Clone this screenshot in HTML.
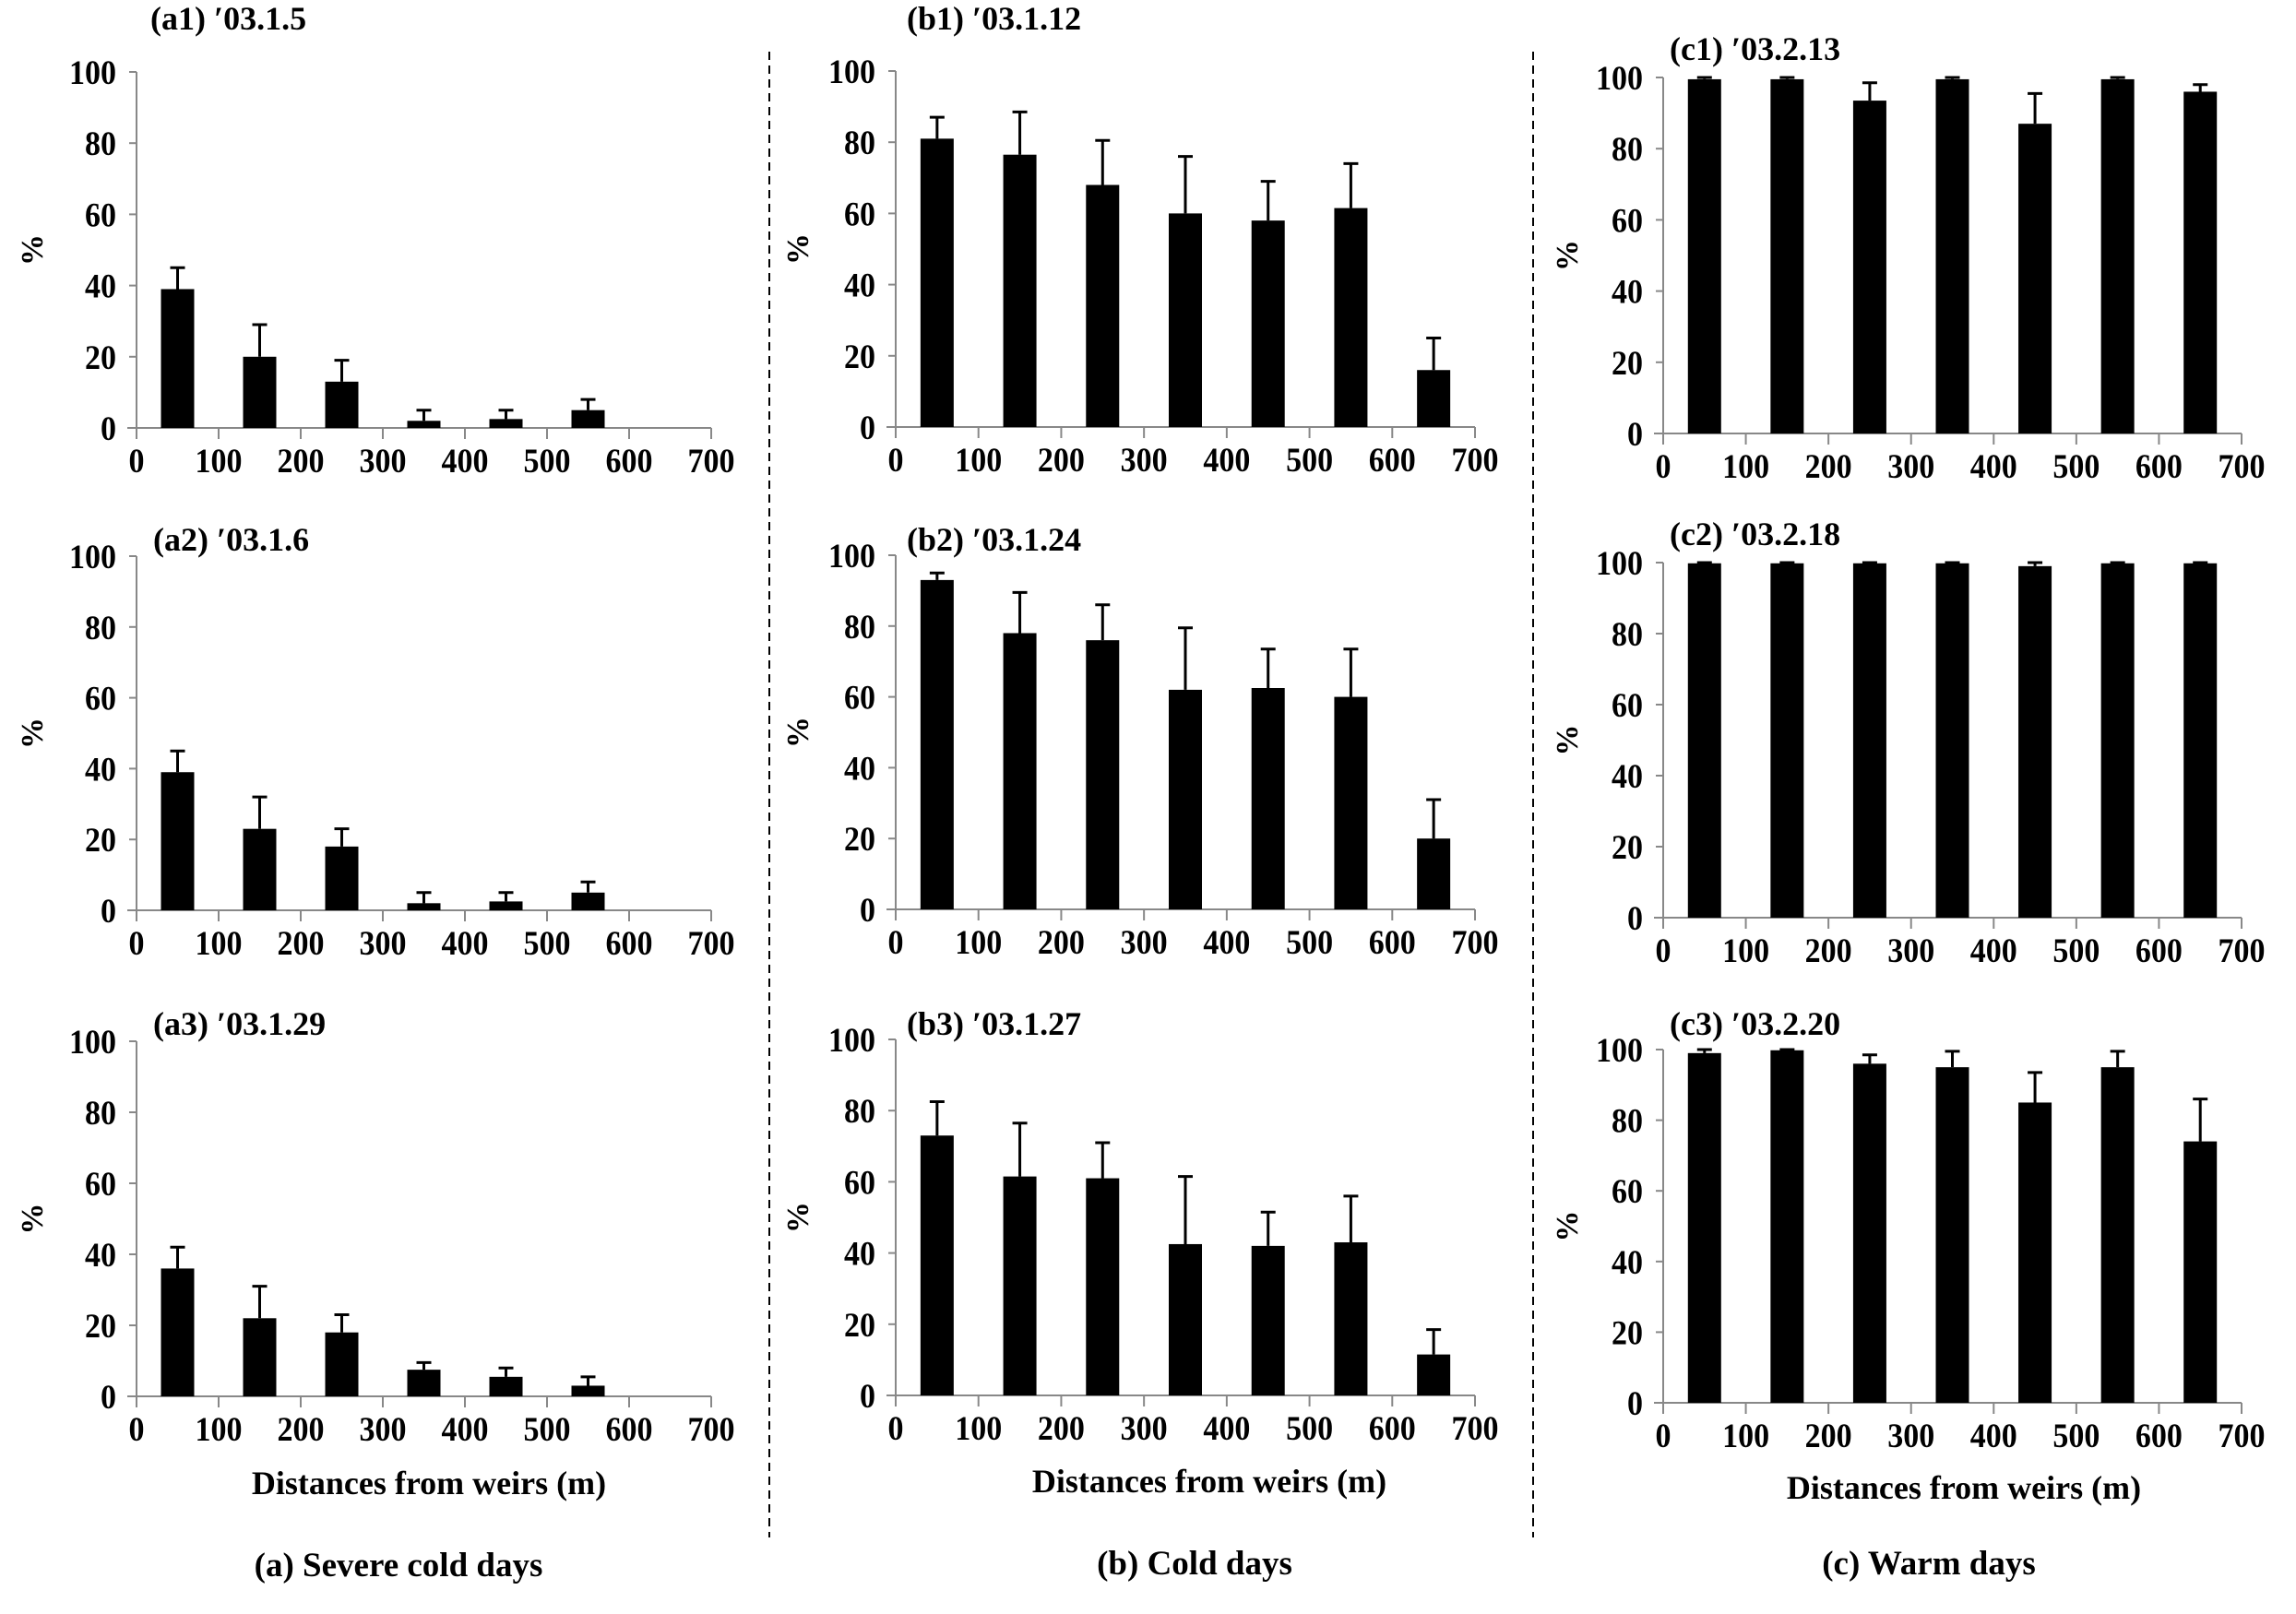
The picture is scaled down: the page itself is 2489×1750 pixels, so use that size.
<!DOCTYPE html>
<html><head><meta charset="utf-8">
<style>
html,body{margin:0;padding:0;background:#fff;}
svg{display:block;}
text{font-family:"Liberation Serif",serif;font-weight:bold;fill:#000;}
</style></head>
<body>
<svg id="fig" width="2489" height="1750" viewBox="0 0 2489 1750" xmlns="http://www.w3.org/2000/svg">
<line x1="834" y1="56" x2="834" y2="1667" stroke="#000" stroke-width="2" stroke-dasharray="9,6"/>
<line x1="1662" y1="56" x2="1662" y2="1667" stroke="#000" stroke-width="2" stroke-dasharray="9,6"/>
<text x="432" y="1709" font-size="37" text-anchor="middle">(a) Severe cold days</text>
<text x="1295" y="1707" font-size="37" text-anchor="middle">(b) Cold days</text>
<text x="2091" y="1707" font-size="37" text-anchor="middle">(c) Warm days</text>
<text x="465" y="1620" font-size="36" text-anchor="middle">Distances from weirs (m)</text>
<text x="1311" y="1618" font-size="36" text-anchor="middle">Distances from weirs (m)</text>
<text x="2129" y="1625" font-size="36" text-anchor="middle">Distances from weirs (m)</text>
</svg>
<script>
const categories=[50,150,250,350,450,550,650];
const xTicks=[0,100,200,300,400,500,600,700];
const yTicks=[0,20,40,60,80,100];
const titles=["(a1) \u203203.1.5","(a2) \u203203.1.6","(a3) \u203203.1.29","(b1) \u203203.1.12","(b2) \u203203.1.24","(b3) \u203203.1.27","(c1) \u203203.2.13","(c2) \u203203.2.18","(c3) \u203203.2.20"];
const valuesA1=[39,20,13,2,2.5,5];
const errorsA1=[6,9,6,3,2.5,3];
const valuesA2=[39,23,18,2,2.5,5];
const errorsA2=[6,9,5,3,2.5,3];
const valuesA3=[36,22,18,7.5,5.5,3];
const errorsA3=[6,9,5,2,2.5,2.5];
const valuesB1=[81,76.5,68,60,58,61.5,16];
const errorsB1=[6,12,12.5,16,11,12.5,9];
const valuesB2=[93,78,76,62,62.5,60,20];
const errorsB2=[2,11.5,10,17.5,11,13.5,11];
const valuesB3=[73,61.5,61,42.5,42,43,11.5];
const errorsB3=[9.5,15,10,19,9.5,13,7];
const valuesC1=[99.5,99.5,93.5,99.5,87,99.5,96];
const errorsC1=[0.5,0.5,5,0.5,8.5,0.5,2];
const valuesC2=[99.8,99.8,99.8,99.8,99,99.8,99.8];
const errorsC2=[0.2,0.2,0.2,0.2,1,0.2,0.2];
const valuesC3=[99,99.8,96,95,85,95,74];
const errorsC3=[1,0.2,2.5,4.5,8.5,4.5,12];

const NS="http://www.w3.org/2000/svg";
const svg=document.getElementById('fig');
function mk(tag,attrs){const e=document.createElementNS(NS,tag);for(const k in attrs)e.setAttribute(k,attrs[k]);svg.appendChild(e);return e;}
const panels=[
 {id:'a1',x0:148,x1:771,y1:78,y0:464,v:valuesA1,e:errorsA1,t:titles[0],tx:163,ty:32,px:35},
 {id:'a2',x0:148,x1:771,y1:603,y0:987,v:valuesA2,e:errorsA2,t:titles[1],tx:166,ty:597,px:35},
 {id:'a3',x0:148,x1:771,y1:1129,y0:1514,v:valuesA3,e:errorsA3,t:titles[2],tx:166,ty:1122,px:35},
 {id:'b1',x0:971,x1:1599,y1:77,y0:463,v:valuesB1,e:errorsB1,t:titles[3],tx:983,ty:32,px:865},
 {id:'b2',x0:971,x1:1599,y1:602,y0:986,v:valuesB2,e:errorsB2,t:titles[4],tx:983,ty:597,px:865},
 {id:'b3',x0:971,x1:1599,y1:1127,y0:1513,v:valuesB3,e:errorsB3,t:titles[5],tx:983,ty:1122,px:865},
 {id:'c1',x0:1803,x1:2430,y1:84,y0:470,v:valuesC1,e:errorsC1,t:titles[6],tx:1810,ty:65,px:1699},
 {id:'c2',x0:1803,x1:2430,y1:610,y0:995,v:valuesC2,e:errorsC2,t:titles[7],tx:1810,ty:591,px:1699},
 {id:'c3',x0:1803,x1:2430,y1:1138,y0:1521,v:valuesC3,e:errorsC3,t:titles[8],tx:1810,ty:1122,px:1699}
];
panels.forEach(p=>{
 const xs=v=>p.x0+(v/700)*(p.x1-p.x0);
 const ys=v=>p.y0-(v/100)*(p.y0-p.y1);
 let el;
 el=mk('line',{x1:p.x0,y1:p.y1,x2:p.x0,y2:p.y0,stroke:'#888','stroke-width':2});
 
 
 el=mk('line',{x1:p.x0-10,y1:p.y0,x2:p.x1,y2:p.y0,stroke:'#888','stroke-width':2});
 
 
 yTicks.forEach(t=>{
  el=mk('line',{x1:p.x0-8,y1:ys(t),x2:p.x0,y2:ys(t),stroke:'#888','stroke-width':2});
  
  
  el=mk('text',{x:p.x0-22,y:ys(t)+13,'font-size':37,'text-anchor':'end',textLength:(String(t).length*17),lengthAdjust:'spacingAndGlyphs'});
  el.textContent=t;
  
  
 });
 xTicks.forEach(t=>{
  el=mk('line',{x1:xs(t),y1:p.y0,x2:xs(t),y2:p.y0+12,stroke:'#888','stroke-width':2});
  
  
  el=mk('text',{x:xs(t),y:p.y0+48,'font-size':37,'text-anchor':'middle',textLength:(String(t).length*17),lengthAdjust:'spacingAndGlyphs'});
  el.textContent=t;
  
  
 });
 p.v.forEach((v,i)=>{
  const cx=xs(categories[i]);
  el=mk('rect',{x:cx-18,y:ys(v),width:36,height:p.y0-ys(v),fill:'#000'});
  
  
  const top=ys(Math.min(100,v+p.e[i]));
  el=mk('path',{d:`M${cx},${ys(v)}V${top}M${cx-8},${top}H${cx+8}`,stroke:'#000','stroke-width':3,fill:'none'});
  
  
 });
 el=mk('text',{x:p.tx,y:p.ty,'font-size':36});
 el.textContent=p.t;
 
 
 const my=(p.y0+p.y1)/2;
 el=mk('text',{x:p.px,y:my,'font-size':34,'text-anchor':'middle',transform:`rotate(-90 ${p.px} ${my})`,dy:11});
 el.textContent='%';
 
 
});
</script>
</body></html>
